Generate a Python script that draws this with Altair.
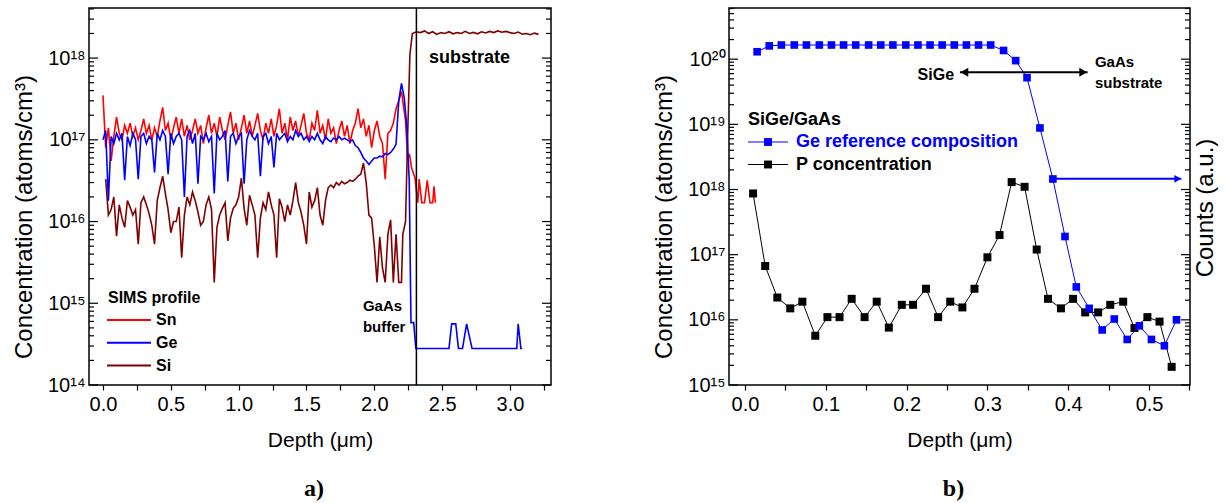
import altair as alt
import pandas as pd

FONT = "Liberation Sans"

# ---------------- panel a) SIMS profile ----------------
grid_depth = [
    0.00, 0.02, 0.04, 0.06, 0.08, 0.10, 0.12, 0.14, 0.16, 0.18,
    0.20, 0.22, 0.24, 0.26, 0.28, 0.30, 0.32, 0.34, 0.36, 0.38,
    0.40, 0.42, 0.44, 0.46, 0.48, 0.50, 0.52, 0.54, 0.56, 0.58,
    0.60, 0.62, 0.64, 0.66, 0.68, 0.70, 0.72, 0.74, 0.76, 0.78,
    0.80, 0.82, 0.84, 0.86, 0.88, 0.90, 0.92, 0.94, 0.96, 0.98,
    1.00, 1.02, 1.04, 1.06, 1.08, 1.10, 1.12, 1.14, 1.16, 1.18,
    1.20, 1.22, 1.24, 1.26, 1.28, 1.30, 1.32, 1.34, 1.36, 1.38,
    1.40, 1.42, 1.44, 1.46, 1.48, 1.50, 1.52, 1.54, 1.56, 1.58,
    1.60, 1.62, 1.64, 1.66, 1.68, 1.70, 1.72, 1.74, 1.76, 1.78,
    1.80, 1.82, 1.84, 1.86, 1.88, 1.90, 1.92, 1.94, 1.96, 1.98,
    2.00, 2.02, 2.04, 2.06, 2.08, 2.10, 2.12, 2.14, 2.16, 2.18,
]
sn_e17 = [
    3.5, 0.8, 1.4, 0.55, 1.1, 1.9, 1.2, 1.0, 1.5, 1.2,
    1.6, 1.1, 1.4, 1.0, 1.3, 1.8, 1.2, 1.5, 1.0, 1.4,
    1.1, 1.7, 2.5, 1.3, 1.6, 1.0, 1.4, 1.9, 1.2, 1.8,
    1.1, 1.5, 1.0, 1.3, 1.8, 1.2, 1.5, 0.9, 1.4, 2.0,
    1.2, 1.6, 1.1, 1.9, 1.3, 1.0, 1.5, 2.2, 1.2, 1.6,
    1.0, 1.4, 2.0, 1.2, 1.7, 1.1, 1.5, 2.1, 1.3, 1.0,
    1.6, 1.2, 1.8, 1.1, 1.5, 2.4, 1.2, 1.6, 1.0, 1.9,
    1.3, 1.7, 1.1, 1.5, 2.1, 1.2, 1.0, 1.6, 1.3, 2.3,
    1.2, 1.5, 1.0, 1.8, 1.2, 1.4, 0.9, 1.3, 1.7, 1.1,
    1.5, 0.9, 1.3, 1.6, 2.4, 1.4, 1.8, 1.1, 1.5, 0.8,
    1.3, 1.7, 1.1, 0.9, 0.33, 1.2, 1.3, 1.6, 2.4, 3.0,
]
ge_e17 = [
    1.0, 1.3, 0.18, 1.1, 0.9, 1.2, 1.0, 1.2, 0.32, 1.1,
    0.85, 1.2, 1.0, 0.33, 1.1, 1.2, 0.9, 1.1, 1.0, 0.40,
    1.2, 1.0, 1.3, 1.1, 0.38, 1.2, 0.9, 1.1, 1.2, 1.0,
    0.20, 1.1, 1.3, 0.9, 1.2, 0.29, 1.1, 1.0, 1.2, 0.95,
    1.1, 0.22, 1.2, 1.0, 1.1, 1.3, 0.31, 1.1, 1.2, 0.9,
    1.1, 1.2, 0.29, 1.0, 1.3, 1.1, 1.0, 1.2, 0.36, 1.1,
    1.2, 0.9, 1.1, 0.46, 1.2, 1.0, 1.1, 1.2, 0.95, 1.1,
    1.0, 1.3, 1.1, 1.2, 1.0, 1.1, 0.95, 1.1, 1.0, 1.2,
    1.0, 0.9, 1.1, 1.0, 0.95, 1.05, 1.0, 1.1, 1.0, 1.05,
    1.0, 0.95, 1.0, 0.85, 0.8, 0.7, 0.6, 0.55, 0.5, 0.55,
    0.6, 0.6, 0.63, 0.62, 0.68, 0.66, 0.7, 0.77, 0.88, 3.0,
]
si_e16 = [
    None, 3.3, 1.2, 1.4, 2.0, 0.66, 1.6, 1.1, 0.85, 1.8,
    1.5, 1.2, 1.4, 0.53, 1.7, 2.0, 1.6, 1.25, 0.9, 0.53,
    1.8, 2.6, 3.6, 2.2, 1.4, 0.73, 1.0, 1.0, 1.5, 0.36,
    1.2, 2.0, 1.6, 2.3, 1.8, 1.3, 0.9, 1.0, 1.6, 2.0,
    1.4, 0.18, 0.85, 1.2, 1.45, 1.7, 0.58, 1.1, 1.45, 1.6,
    2.0, 3.4, 1.45, 0.9, 2.1, 1.6, 1.2, 0.36, 1.1, 1.7,
    1.4, 2.3, 1.6, 1.2, 0.36, 1.9, 1.5, 1.0, 1.6, 1.2,
    1.8, 3.0, 1.7, 1.3, 0.9, 0.53, 2.3, 1.5, 1.8, 2.6,
    1.2, 0.9, 1.8, 2.6, 2.8, 2.6, 3.0, 2.8, 3.1, 2.9,
    3.0, 3.2, 3.1, 3.3, 3.6, 3.8, 5.2, 3.0, 1.2, 1.1,
    0.5, 0.18, 0.65, 0.27, 0.18, 0.7, 1.05, 0.18, 0.7, 0.18,
]
sn_tail_depth = [2.20, 2.23, 2.245, 2.26, 2.275, 2.30, 2.32, 2.33, 2.35, 2.37, 2.39, 2.41, 2.43, 2.44, 2.45]
sn_tail_e17 = [3.9, 1.7, 0.6, 0.65, 0.45, 0.34, 0.17, 0.33, 0.17, 0.17, 0.32, 0.17, 0.17, 0.27, 0.17]
ge_tail_depth = [2.20, 2.22, 2.24, 2.257, 2.27, 2.29, 2.306, 2.55, 2.57, 2.60, 2.62, 2.65, 2.68, 2.72,
                 3.05, 3.06, 3.08, 3.09]
ge_tail_e17 = [4.9, 3.3, 1.4, 0.32, 0.0058, 0.0058, 0.0028, 0.0028, 0.0056, 0.0056, 0.0028, 0.0028,
               0.0056, 0.0028, 0.0028, 0.0056, 0.0028, 0.0028]
si_tail_depth = [2.20, 2.21, 2.23, 2.245, 2.262, 2.28, 2.31, 2.34, 2.37, 2.40, 2.43, 2.46, 2.49, 2.52,
                 2.55, 2.58, 2.61, 2.64, 2.67, 2.70, 2.73, 2.76, 2.79, 2.82, 2.85, 2.88, 2.91, 2.94,
                 2.97, 3.00, 3.03, 3.06, 3.09, 3.12, 3.15, 3.18, 3.21]
si_tail_e16 = [0.18, 0.7, 1.0, 10.5, 110, 200, 210, 205, 215, 200, 210, 195, 205, 200, 210, 198, 205,
               200, 212, 200, 206, 198, 210, 203, 212, 205, 215, 207, 212, 205, 200, 208, 196, 200,
               193, 202, 195]
boundary_depth = [2.31]

series_a = ["Sn", "Ge", "Si"]
colors_a = {"Sn": "#FF0000", "Ge": "#0000FF", "Si": "#800000"}

ann_a_big = pd.DataFrame({"depth": [2.403], "conc": [1.0e18], "label": ["substrate"]})
ann_a_small = pd.DataFrame({"depth": [1.916, 1.916], "conc": [9.2e14, 5.1e14], "label": ["GaAs", "buffer"]})

# ---------------- panel b) SiGe/GaAs ----------------
ge_ref_depth = [0.015, 0.030, 0.045, 0.061, 0.076, 0.092, 0.107, 0.122, 0.137, 0.153, 0.168, 0.183,
                0.199, 0.214, 0.229, 0.244, 0.259, 0.274, 0.289, 0.304, 0.320, 0.335, 0.349, 0.365,
                0.381, 0.396, 0.410, 0.426, 0.442, 0.457, 0.473, 0.488, 0.503, 0.519, 0.534]
ge_ref_conc = [1.3e20, 1.6e20, 1.65e20, 1.65e20, 1.65e20, 1.65e20, 1.65e20, 1.65e20, 1.65e20,
               1.65e20, 1.65e20, 1.65e20, 1.65e20, 1.65e20, 1.65e20, 1.65e20, 1.65e20, 1.65e20,
               1.65e20, 1.65e20, 1.36e20, 9.5e19, 5.2e19, 8.8e18, 1.45e18, 1.9e17, 3.2e16,
               1.5e16, 7.0e15, 1.03e16, 5.0e15, 8.1e15, 5.0e15, 4.0e15, 1.0e16]
p_depth = [0.010, 0.025, 0.040, 0.056, 0.071, 0.087, 0.102, 0.117, 0.132, 0.148, 0.163, 0.178,
           0.194, 0.208, 0.224, 0.239, 0.254, 0.269, 0.284, 0.300, 0.315, 0.330, 0.346, 0.361,
           0.375, 0.391, 0.406, 0.421, 0.437, 0.452, 0.468, 0.482, 0.498, 0.513, 0.528]
p_conc = [8.7e17, 6.7e16, 2.2e16, 1.5e16, 1.9e16, 5.7e15, 1.1e16, 1.1e16, 2.1e16, 1.1e16, 1.9e16,
          7.6e15, 1.7e16, 1.7e16, 3.0e16, 1.1e16, 1.9e16, 1.55e16, 3.0e16, 9.1e16, 2.0e17, 1.3e18,
          1.1e18, 1.2e17, 2.1e16, 1.5e16, 2.1e16, 1.3e16, 1.3e16, 1.7e16, 1.9e16, 7.5e15, 1.1e16,
          9.4e15, 1.9e15]
legend_b = ["Ge reference composition", "P concentration"]
colors_b = {"Ge reference composition": "#0000FF", "P concentration": "#000000"}

double_arrow_depth = [0.266, 0.424]
double_arrow_conc = [6.3e19, 6.3e19]
double_arrow_head_depth = [0.2715, 0.4185]
blue_arrow_depth = [0.381, 0.540]
blue_arrow_conc = [1.46e18, 1.46e18]
blue_arrow_head_depth = [0.5355]
ann_b = pd.DataFrame({"depth": [0.433, 0.433], "conc": [9.0e19, 4.27e19], "label": ["GaAs", "substrate"]})
ann_b_sige = pd.DataFrame({"depth": [0.2587], "conc": [5.8e19], "label": ["SiGe"]})

# ---------------- helpers ----------------
SUP = {"0": "\u2070", "1": "\u00b9", "2": "\u00b2", "3": "\u00b3", "4": "\u2074",
       "5": "\u2075", "6": "\u2076", "7": "\u2077", "8": "\u2078", "9": "\u2079"}
E = "round(log(datum.value)/LN10)"


def pow_label_expr(exps):
    s = "".join(f"{E} == {k} ? '10{''.join(SUP[c] for c in str(k))}' : " for k in exps)
    return f"{s}''"


one = pd.DataFrame({"k": [0]})
W_A, W_B, H = 462, 461, 377

ya_major = [1e14, 1e15, 1e16, 1e17, 1e18]
ya_minor = [float(m * 10 ** e) for e in range(14, 18) for m in range(2, 10)] + [2e18, 3e18, 4e18]
yb_major = [1e15, 1e16, 1e17, 1e18, 1e19, 1e20]
yb_minor = [float(m * 10 ** e) for e in range(15, 20) for m in range(2, 10)] + [2e20, 3e20, 4e20, 5e20, 6e20]
xa_ticks = [i * 0.25 for i in range(14)]
xb_ticks = [round(i * 0.05, 2) for i in range(12)]


def x_enc(domain, ticks, mult):
    test = f"abs(datum.value*{mult} - round(datum.value*{mult})) < 0.001"
    ax = alt.Axis(values=ticks, labelExpr=f"{test} ? format(datum.value, '.1f') : ''",
                  tickSize=5, tickColor="black", tickWidth=1.2, domain=False, grid=False,
                  labelFont=FONT, labelFontSize=20, labelColor="black", labelPadding=4,
                  title="Depth  (\u03bcm)", titleFont=FONT, titleFontSize=21,
                  titleFontWeight="normal", titleColor="black", titlePadding=15)
    return alt.X("depth:Q", scale=alt.Scale(domain=domain, nice=False, zero=False), axis=ax)


def y_enc(domain, exps):
    ax = alt.Axis(values=[float(10 ** k) for k in exps], labelExpr=pow_label_expr(exps),
                  ticks=False, domain=False, grid=False, labelFont=FONT, labelFontSize=20,
                  labelColor="black", labelPadding=4, title=None)
    return alt.Y("conc:Q", scale=alt.Scale(type="log", domain=domain, nice=False), axis=ax)


def tick_rules(values, x0, x1):
    return alt.Chart(pd.DataFrame({"conc": values})).mark_rule(color="black", strokeWidth=1.2).encode(
        x=alt.value(x0), x2=alt.value(x1))


def frame_ticks(major, minor, w):
    return [tick_rules(major, 0, 9), tick_rules(minor, 0, 5),
            tick_rules(major, w - 9, w), tick_rules(minor, w - 5, w)]


def ptext(text, x, y, size, color="black", bold=True, angle=0, align="left"):
    return alt.Chart(one).mark_text(text=text, align=align, baseline="middle", font=FONT, angle=angle,
                                    fontSize=size, fontWeight="bold" if bold else "normal", color=color).encode(
        x=alt.value(x), y=alt.value(y))


def dtext(df, size, align="left"):
    return alt.Chart(df).mark_text(align=align, baseline="middle", font=FONT, fontSize=size,
                                   fontWeight="bold", color="black").encode(text="label:N")


def series_df(depth, vals, unit, tdepth, tvals):
    rows = [(d, v * unit) for d, v in zip(depth, vals) if v is not None]
    rows += [(d, v * unit) for d, v in zip(tdepth, tvals)]
    return pd.DataFrame(rows, columns=["depth", "conc"])


YTITLE = "Concentration  (atoms/cm\u00b3)"

# ---------------- build panel a ----------------
df_sn = series_df(grid_depth, sn_e17, 1e17, sn_tail_depth, sn_tail_e17)
df_ge = series_df(grid_depth, ge_e17, 1e17, ge_tail_depth, ge_tail_e17)
df_si = series_df(grid_depth, si_e16, 1e16, si_tail_depth, si_tail_e16)

lines_a = [alt.Chart(df).mark_line(color=colors_a[name], strokeWidth=1.6, clip=True)
           for name, df in [("Sn", df_sn), ("Si", df_si), ("Ge", df_ge)]]

rule_a = alt.Chart(pd.DataFrame({"depth": boundary_depth})).mark_rule(color="black", strokeWidth=1.5).encode(
    y=alt.value(0), y2=alt.value(H))

legend_a = [ptext("SIMS profile", 19, 290, 16)]
for i, name in enumerate(series_a):
    yy = 312 + 22.8 * i
    legend_a.append(alt.Chart(one).mark_rule(color=colors_a[name], strokeWidth=2).encode(
        x=alt.value(18), x2=alt.value(62), y=alt.value(yy)))
    legend_a.append(ptext(name, 67, yy, 16))

panel_a = alt.layer(
    *lines_a,
    rule_a,
    dtext(ann_a_big, 18),
    dtext(ann_a_small, 15),
    *frame_ticks(ya_major, ya_minor, W_A),
    ptext(YTITLE, -64, 209, 24, bold=False, angle=270, align="center"),
    *legend_a,
).encode(
    x=x_enc([-0.103, 3.302], xa_ticks, 2),
    y=y_enc([1e14, 4.1e18], [14, 15, 16, 17, 18]),
).properties(
    width=W_A, height=H,
    title=alt.TitleParams("a)", orient="bottom", anchor="middle", font="Liberation Serif",
                          fontSize=24, fontWeight="bold", color="black", offset=27, dx=-6))

# ---------------- build panel b ----------------
df_geb = pd.DataFrame({"depth": ge_ref_depth, "conc": ge_ref_conc})
df_p = pd.DataFrame({"depth": p_depth, "conc": p_conc})

p_line = alt.Chart(df_p).mark_line(color="black", strokeWidth=1)
p_pts = alt.Chart(df_p).mark_point(shape="square", filled=True, size=64, color="black", opacity=1)
g_line = alt.Chart(df_geb).mark_line(color="#0000FF", strokeWidth=1)
g_pts = alt.Chart(df_geb).mark_point(shape="square", filled=True, size=58, color="#0000FF", opacity=1)

darrow_line = alt.Chart(pd.DataFrame({"depth": double_arrow_depth, "conc": double_arrow_conc})).mark_line(
    color="black", strokeWidth=2)
darrow_left = alt.Chart(pd.DataFrame({"depth": double_arrow_head_depth[:1], "conc": double_arrow_conc[:1]})).mark_point(
    shape="triangle-left", filled=True, size=80, color="black", opacity=1)
darrow_right = alt.Chart(pd.DataFrame({"depth": double_arrow_head_depth[1:], "conc": double_arrow_conc[1:]})).mark_point(
    shape="triangle-right", filled=True, size=80, color="black", opacity=1)
barrow_line = alt.Chart(pd.DataFrame({"depth": blue_arrow_depth, "conc": blue_arrow_conc})).mark_line(
    color="#0000FF", strokeWidth=2)
barrow_head = alt.Chart(pd.DataFrame({"depth": blue_arrow_head_depth, "conc": blue_arrow_conc[1:]})).mark_point(
    shape="triangle-right", filled=True, size=60, color="#0000FF", opacity=1)

legend_bl = [ptext("SiGe/GaAs", 19, 112, 18)]
for i, name in enumerate(legend_b):
    yy = 134 + 22.5 * i
    c = colors_b[name]
    legend_bl.append(alt.Chart(one).mark_rule(color=c, strokeWidth=1.2).encode(
        x=alt.value(19), x2=alt.value(59), y=alt.value(yy)))
    legend_bl.append(alt.Chart(one).mark_point(shape="square", filled=True, size=62, color=c, opacity=1).encode(
        x=alt.value(39), y=alt.value(yy)))
    legend_bl.append(ptext(name, 67, yy, 18, c))

panel_b = alt.layer(
    p_line, p_pts, g_line, g_pts,
    darrow_line, darrow_left, darrow_right, barrow_line, barrow_head,
    dtext(ann_b_sige, 16, align="right"),
    dtext(ann_b, 15),
    *frame_ticks(yb_major, yb_minor, W_B),
    ptext(YTITLE, -64, 209, 24, bold=False, angle=270, align="center"),
    ptext("Counts  (a.u.)", W_B + 16, 200, 24, bold=False, angle=270, align="center"),
    *legend_bl,
).encode(
    x=x_enc([-0.0198, 0.5507], xb_ticks, 10),
    y=y_enc([1e15, 6.1e20], [15, 16, 17, 18, 19, 20]),
).properties(
    width=W_B, height=H,
    title=alt.TitleParams("b)", orient="bottom", anchor="middle", font="Liberation Serif",
                          fontSize=24, fontWeight="bold", color="black", offset=27, dx=-6))

chart = alt.hconcat(panel_a, panel_b, spacing=99).configure(
    padding={"left": 12, "top": 6, "right": 0, "bottom": 0}, background="white"
).configure_view(stroke="black", strokeWidth=1.5)

chart.save("out.html", embed_options={"renderer": "svg", "actions": False})
